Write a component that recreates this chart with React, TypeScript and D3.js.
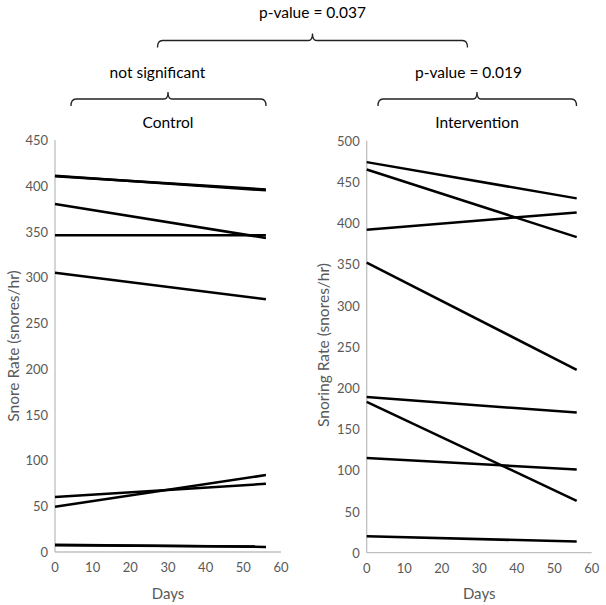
import React from "react";
import * as d3 from "d3";

const days = [0, 56];
const xTicks = [0, 10, 20, 30, 40, 50, 60];

const controlStart = [410.5, 411, 380, 346, 305, 60, 49.5, 7.5, 8];
const controlEnd = [396, 395, 343, 346, 276, 74.5, 84, 6, 5.5];
const controlTicks = [0, 50, 100, 150, 200, 250, 300, 350, 400, 450];

const interventionStart = [474, 465, 392, 352, 189, 183, 115, 20];
const interventionEnd = [430, 383, 413, 222, 170, 63, 101, 13.5];
const interventionTicks = [0, 50, 100, 150, 200, 250, 300, 350, 400, 450, 500];

const FONT = "Lato, 'Open Sans', sans-serif";
const GRAY = "#595959";
const AXIS = "#bfbfbf";

function bracketPath(x1: number, x2: number, xm: number, y: number) {
  const d = 7;
  return `M${x1},${y + d} Q${x1},${y} ${x1 + 5},${y} L${xm - 4},${y} Q${xm},${y} ${xm},${y - d} Q${xm},${y} ${xm + 4},${y} L${x2 - 5},${y} Q${x2},${y} ${x2},${y + d}`;
}

type PanelProps = {
  starts: number[];
  ends: number[];
  ticks: number[];
  yMax: number;
  x0: number;
  x1: number;
  y0: number;
  y1: number;
  yLabel: string;
  yLabelX: number;
  yLabelY: number;
};

function Panel({ starts, ends, ticks, yMax, x0, x1, y0, y1, yLabel, yLabelX, yLabelY }: PanelProps) {
  const x = d3.scaleLinear().domain([0, 60]).range([x0, x1]);
  const y = d3.scaleLinear().domain([0, yMax]).range([y0, y1]);
  const line = d3
    .line<[number, number]>()
    .x((d) => x(d[0]))
    .y((d) => y(d[1]));
  return (
    <g>
      <line x1={x0} x2={x0} y1={y1} y2={y0} stroke={AXIS} strokeWidth={1.3} />
      <line x1={x0} x2={x1} y1={y0} y2={y0} stroke={AXIS} strokeWidth={1.3} />
      {ticks.map((t) => (
        <text
          key={"y" + t}
          x={x0 - 7}
          y={y(t)}
          textAnchor="end"
          dominantBaseline="central"
          fontSize={13}
          fill={GRAY}
          fontFamily={FONT}
        >
          {t}
        </text>
      ))}
      {xTicks.map((t) => (
        <text
          key={"x" + t}
          x={x(t)}
          y={y0 + 15}
          textAnchor="middle"
          dominantBaseline="central"
          fontSize={13}
          fill={GRAY}
          fontFamily={FONT}
        >
          {t}
        </text>
      ))}
      <text
        x={(x0 + x1) / 2}
        y={y0 + 40.5}
        textAnchor="middle"
        dominantBaseline="central"
        fontSize={15}
        fill={GRAY}
        fontFamily={FONT}
      >
        Days
      </text>
      <text
        transform={`translate(${yLabelX},${yLabelY}) rotate(-90)`}
        textAnchor="middle"
        dominantBaseline="central"
        fontSize={15.5}
        fill={GRAY}
        fontFamily={FONT}
      >
        {yLabel}
      </text>
      {starts.map((s, i) => (
        <path
          key={"l" + i}
          d={line([
            [days[0], s],
            [days[1], ends[i]],
          ]) as string}
          fill="none"
          stroke="#000"
          strokeWidth={2.5}
        />
      ))}
    </g>
  );
}

export default function App() {
  return (
    <svg
      width={606}
      height={605}
      style={{ position: "absolute", left: 0, top: 0, background: "#fff" }}
    >
      <rect width={606} height={605} fill="#fff" />
      <text x={312.5} y={12} textAnchor="middle" dominantBaseline="central" fontSize={15.5} fill="#000" fontFamily={FONT}>
        p-value = 0.037
      </text>
      <path d={bracketPath(157.5, 467.5, 312.5, 40.5)} fill="none" stroke="#222" strokeWidth={1.3} />
      <text x={157.5} y={72} textAnchor="middle" dominantBaseline="central" fontSize={15.5} fill="#000" fontFamily={FONT}>
        not significant
      </text>
      <text x={468.5} y={72} textAnchor="middle" dominantBaseline="central" fontSize={15.5} fill="#000" fontFamily={FONT}>
        p-value = 0.019
      </text>
      <path d={bracketPath(71, 266, 168, 99)} fill="none" stroke="#222" strokeWidth={1.3} />
      <path d={bracketPath(378, 576.5, 477, 99)} fill="none" stroke="#222" strokeWidth={1.3} />
      <text x={168} y={122} textAnchor="middle" dominantBaseline="central" fontSize={15.5} fill="#000" fontFamily={FONT}>
        Control
      </text>
      <text x={477} y={122} textAnchor="middle" dominantBaseline="central" fontSize={15.5} fill="#000" fontFamily={FONT}>
        Intervention
      </text>
      <Panel
        starts={controlStart}
        ends={controlEnd}
        ticks={controlTicks}
        yMax={450}
        x0={55}
        x1={281}
        y0={552}
        y1={140}
        yLabel="Snore Rate (snores/hr)"
        yLabelX={13}
        yLabelY={346}
      />
      <Panel
        starts={interventionStart}
        ends={interventionEnd}
        ticks={interventionTicks}
        yMax={500}
        x0={366.7}
        x1={591.7}
        y0={552.7}
        y1={140.7}
        yLabel="Snoring Rate (snores/hr)"
        yLabelX={323}
        yLabelY={345}
      />
    </svg>
  );
}
